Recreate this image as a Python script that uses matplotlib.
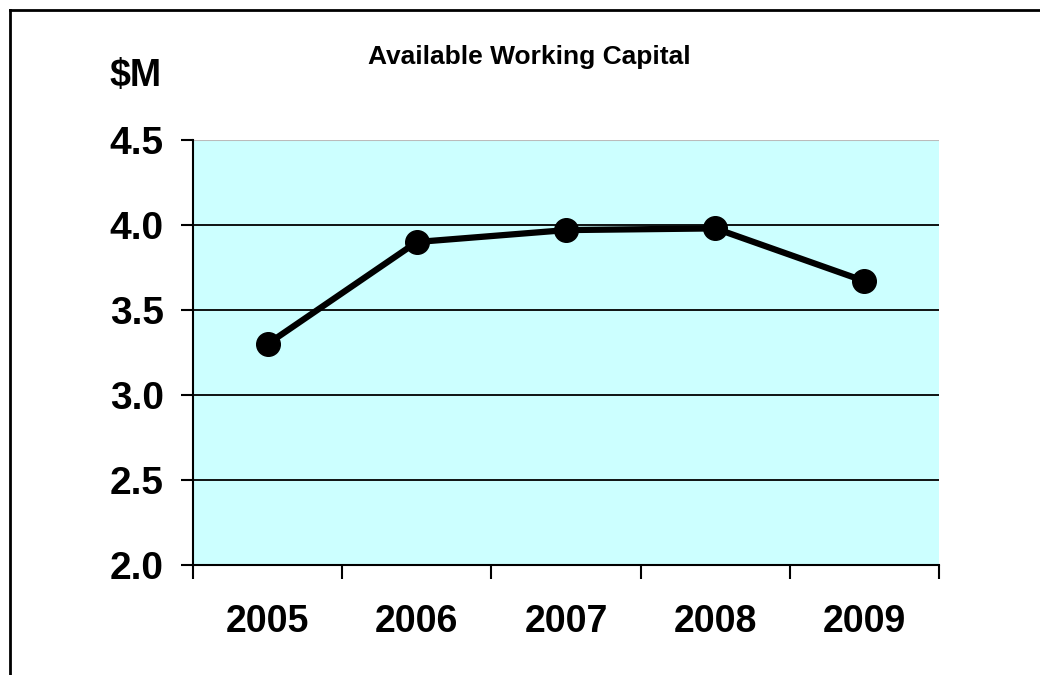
import matplotlib.pyplot as plt
from matplotlib.lines import Line2D
import numpy as np

plt.rcParams['font.family'] = ['Liberation Sans', 'DejaVu Sans']

years = ['2005', '2006', '2007', '2008', '2009']
capital = [3.30, 3.90, 3.97, 3.98, 3.67]
y_ticks = [2.0, 2.5, 3.0, 3.5, 4.0, 4.5]

W, H = 1040, 675
fig = plt.figure(figsize=(W / 100, H / 100), dpi=100)
ax = fig.add_axes([193 / W, 1 - 565 / H, (939 - 193) / W, (565 - 140) / H])

ax.set_facecolor('#CCFFFF')
x = np.arange(len(years))
ax.set_xlim(-0.5, len(years) - 0.5)
ax.set_ylim(2.0, 4.5)

# horizontal gridlines, top one in grey
for v in y_ticks[1:-1]:
    ax.axhline(v, color='black', lw=1.3, zorder=1)
ax.axhline(4.5, color='#BBBBBB', lw=1.5, zorder=1)

ax.plot(x, capital, color='black', lw=4.5, marker='o', markersize=17, zorder=3)

for s in ['top', 'right']:
    ax.spines[s].set_visible(False)
for s in ['left', 'bottom']:
    ax.spines[s].set_linewidth(1.5)

ax.set_yticks(y_ticks)
ax.set_yticklabels([f'{v:.1f}' for v in y_ticks], fontsize=28, fontweight='bold')
ax.tick_params(axis='y', length=9, width=1.5, pad=12)

# category ticks on the boundaries, labels at centres
ax.set_xticks(np.arange(len(years) + 1) - 0.5)
ax.set_xticklabels([])
ax.tick_params(axis='x', length=10, width=1.5)
for xi, lab in zip(x, years):
    ax.text(xi, -0.133, lab, transform=ax.get_xaxis_transform(), ha='center', va='center',
            fontsize=27, fontweight='bold')

fig.text(529 / W, 1 - 57 / H, 'Available Working Capital', ha='center', va='center',
         fontsize=19, fontweight='bold')
fig.text(136 / W, 1 - 76 / H, '$M', ha='center', va='center', fontsize=27, fontweight='bold')

# outer frame (left and top edges)
fig.add_artist(Line2D([9.5 / W, 9.5 / W], [0, 1 - 9.5 / H], color='black', lw=2))
fig.add_artist(Line2D([9.5 / W, 1], [1 - 9.5 / H, 1 - 9.5 / H], color='black', lw=2))

fig.savefig('out.png', dpi=100, facecolor='white')
